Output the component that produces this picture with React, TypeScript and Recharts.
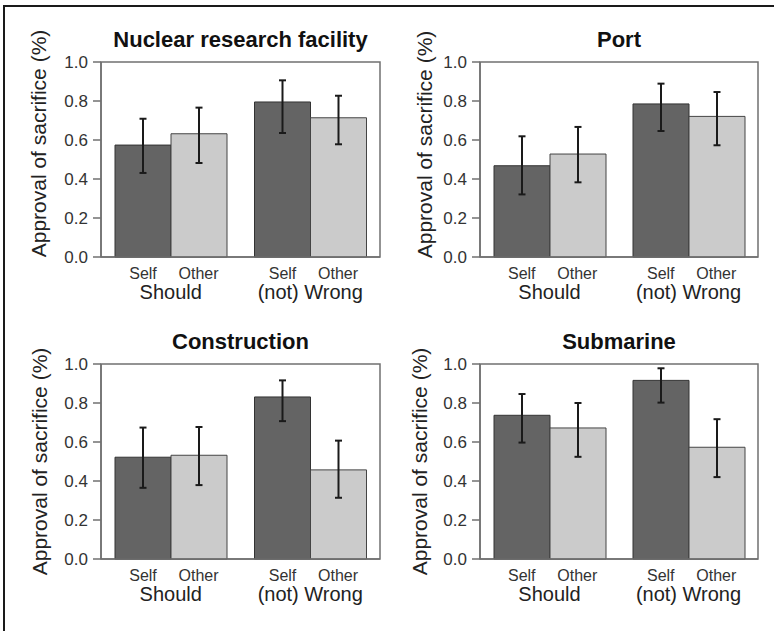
import React from "react"
import { BarChart, Bar, XAxis, YAxis, ErrorBar, ReferenceArea } from "recharts"

const TITLES = ["Nuclear research facility", "Port", "Construction", "Submarine"]
const GROUPS = ["Should", "(not) Wrong"]
const CONDITIONS = ["Self", "Other"]
const Y_TICKS = [0, 0.2, 0.4, 0.6, 0.8, 1.0]

// per panel: [Should, (not) Wrong]
const SELF_MEAN = [[0.574, 0.795], [0.468, 0.785], [0.522, 0.831], [0.737, 0.916]]
const SELF_LO = [[0.431, 0.636], [0.321, 0.646], [0.365, 0.707], [0.597, 0.802]]
const SELF_HI = [[0.709, 0.906], [0.619, 0.889], [0.674, 0.916], [0.846, 0.978]]
const OTHER_MEAN = [[0.632, 0.714], [0.528, 0.721], [0.532, 0.457], [0.672, 0.573]]
const OTHER_LO = [[0.482, 0.578], [0.383, 0.573], [0.379, 0.314], [0.524, 0.42]]
const OTHER_HI = [[0.766, 0.827], [0.667, 0.846], [0.677, 0.607], [0.8, 0.717]]

const FONT = "'Liberation Sans', Arial, Helvetica, sans-serif"
const DARK = "#646464"
const LIGHT = "#cbcbcb"
const AXIS = "#707070"
const BAR_HALF = 27.75

// panel placement on the page
const LAYOUT = [
  { left: 0, top: 0, margin: { top: 62, right: 7, bottom: 0, left: 37 }, labelDx: -31, labelDy: -16 },
  { left: 387, top: 0, margin: { top: 62, right: 16, bottom: 0, left: 29 }, labelDx: -24, labelDy: -15 },
  { left: 0, top: 315, margin: { top: 49, right: 7, bottom: 13, left: 37 }, labelDx: -30, labelDy: 0 },
  { left: 387, top: 315, margin: { top: 49, right: 16, bottom: 13, left: 29 }, labelDx: -29, labelDy: 0 },
]

function GroupTick({ x, y, payload }: any) {
  return (
    <g fontFamily={FONT}>
      <text x={x - BAR_HALF} y={y + 22} textAnchor="middle" fontSize={16} fill="#333">
        {CONDITIONS[0]}
      </text>
      <text x={x + BAR_HALF} y={y + 22} textAnchor="middle" fontSize={16} fill="#333">
        {CONDITIONS[1]}
      </text>
      <text x={x} y={y + 42} textAnchor="middle" fontSize={20} fill="#222">
        {payload.value}
      </text>
    </g>
  )
}

function YLabel({ viewBox, dx, dy }: any) {
  const cx = viewBox.x + viewBox.width / 2 + dx
  const cy = viewBox.y + viewBox.height / 2 + dy
  return (
    <text
      x={cx}
      y={cy}
      transform={`rotate(-90 ${cx} ${cy})`}
      textAnchor="middle"
      dominantBaseline="central"
      fontSize={21}
      fontFamily={FONT}
      fill="#222"
    >
      Approval of sacrifice (%)
    </text>
  )
}

function Panel({ idx }: { idx: number }) {
  const lay = LAYOUT[idx]
  const data = GROUPS.map((g, i) => ({
    group: g,
    self: SELF_MEAN[idx][i],
    selfErr: [SELF_MEAN[idx][i] - SELF_LO[idx][i], SELF_HI[idx][i] - SELF_MEAN[idx][i]],
    other: OTHER_MEAN[idx][i],
    otherErr: [OTHER_MEAN[idx][i] - OTHER_LO[idx][i], OTHER_HI[idx][i] - OTHER_MEAN[idx][i]],
  }))

  return (
    <div style={{ position: "absolute", left: lay.left, top: lay.top }}>
      <BarChart
        width={387}
        height={315}
        data={data}
        margin={lay.margin}
        barGap={0}
        barCategoryGap={14}
        style={{ fontFamily: FONT }}
      >
        <XAxis
          dataKey="group"
          tick={<GroupTick />}
          tickLine={false}
          tickSize={0}
          tickMargin={0}
          height={58}
          interval={0}
          axisLine={{ stroke: AXIS, strokeWidth: 1.5 }}
        />
        <YAxis
          domain={[0, 1]}
          ticks={Y_TICKS}
          tickFormatter={(v: number) => v.toFixed(1)}
          width={64}
          tickSize={8}
          tickMargin={5}
          axisLine={{ stroke: AXIS, strokeWidth: 1.5 }}
          tickLine={{ stroke: AXIS, strokeWidth: 1.5 }}
          tick={{ fontSize: 17, fill: "#333", fontFamily: FONT }}
          label={{ content: (p: any) => <YLabel {...p} dx={lay.labelDx} dy={lay.labelDy} /> }}
        />
        <ReferenceArea
          y1={0}
          y2={1}
          fill="none"
          stroke={AXIS}
          strokeWidth={1.5}
          ifOverflow="visible"
          label={{
            value: TITLES[idx],
            position: "top",
            offset: 15,
            fontSize: 22,
            fontWeight: "bold",
            fill: "#111",
            fontFamily: FONT,
          }}
        />
        <Bar dataKey="self" fill={DARK} stroke="#333" strokeWidth={1} isAnimationActive={false}>
          <ErrorBar dataKey="selfErr" width={3.5} stroke="#1a1a1a" strokeWidth={2} direction="y" />
        </Bar>
        <Bar dataKey="other" fill={LIGHT} stroke="#444" strokeWidth={1} isAnimationActive={false}>
          <ErrorBar dataKey="otherErr" width={3.5} stroke="#1a1a1a" strokeWidth={2} direction="y" />
        </Bar>
      </BarChart>
    </div>
  )
}

export default function App() {
  return (
    <div
      style={{
        position: "fixed",
        left: 0,
        top: 0,
        width: 774,
        height: 631,
        background: "#fff",
        overflow: "hidden",
      }}
    >
      <div
        style={{
          position: "absolute",
          left: 3,
          top: 5,
          width: 800,
          height: 700,
          borderLeft: "2px solid #1a1a1a",
          borderTop: "2px solid #1a1a1a",
        }}
      />
      {TITLES.map((_, i) => (
        <Panel key={i} idx={i} />
      ))}
    </div>
  )
}
